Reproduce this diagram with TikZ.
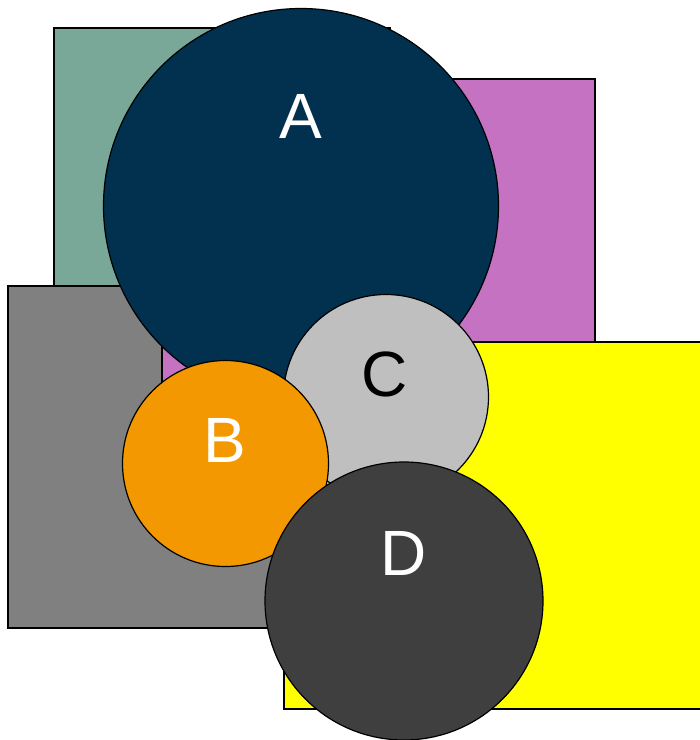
\documentclass[tikz,border=0pt]{standalone}
\usepackage{fontspec}
\setmainfont{Liberation Sans}
\definecolor{cgreen}{HTML}{79A898}
\definecolor{cmag}{HTML}{C672C2}
\definecolor{cgray}{HTML}{808080}
\definecolor{cyel}{HTML}{FFFF00}
\definecolor{cA}{HTML}{02304F}
\definecolor{cB}{HTML}{F39800}
\definecolor{cC}{HTML}{BFBFBF}
\definecolor{cD}{HTML}{3F3F3F}
\tikzset{
  box/.style={draw=black, line width=1.2pt},
  disc/.style={draw=black, line width=1.2pt, circle, inner sep=0pt},
  lbl/.style={inner sep=0pt, font=\fontsize{64}{64}\selectfont}
}
\begin{document}
\begin{tikzpicture}[x=1pt,y=-1pt]
\useasboundingbox (0,0) rectangle (700,740);
\draw[box, fill=cgreen] (54,28) rectangle (390,320);
\draw[box, fill=cgray] (8,286) rectangle (285,628);
\draw[box, fill=cmag] (162,79) rectangle (595,460);
\draw[box, fill=cyel] (284,342) rectangle (702,709);
\node[disc, fill=cA, minimum size=395pt] (A) at (301,206) {};
\node[disc, fill=cC, minimum size=205pt] (C) at (386,397) {};
\node[disc, fill=cB, minimum size=206pt] (B) at (225.5,463.5) {};
\node[disc, fill=cD, minimum size=278pt] (D) at (404,601) {};
\node[lbl, text=white] (lA) at (301,116) {A};
\node[lbl, text=black] (lC) at (385,374) {C};
\node[lbl, text=white] (lB) at (225,440) {B};
\node[lbl, text=white] (lD) at (404,553) {D};
\end{tikzpicture}
\end{document}
